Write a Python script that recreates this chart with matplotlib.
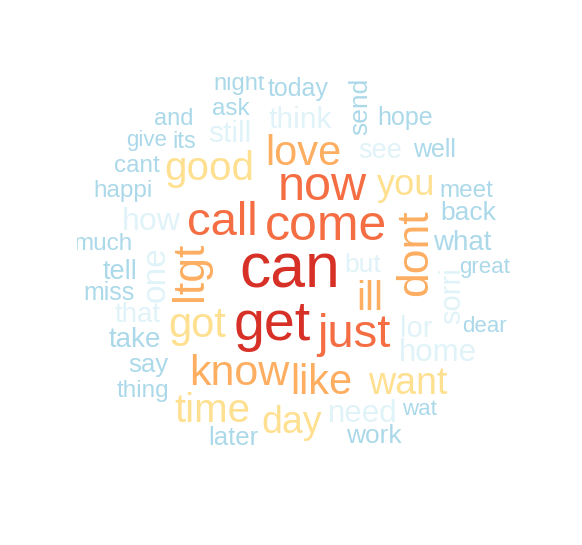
import matplotlib.pyplot as plt

# --- word data (weight ~ frequency, bin = colour class by frequency) ---
words = ['can', 'get', 'come', 'just', 'now', 'call', 'dont', 'ltgt', 'know',
         'love', 'like', 'got', 'ill', 'good', 'time', 'day', 'want', 'you',
         'one', 'how', 'home', 'need', 'still', 'think', 'lor', 'sorri', 'that',
         'see', 'but',
         'tell', 'take', 'what', 'send', 'back', 'work', 'say', 'later', 'miss',
         'today', 'hope', 'well', 'ask', 'happi', 'cant', 'much', 'thing', 'meet',
         'and', 'night', 'its', 'give', 'great', 'dear', 'wat']
weights = [45, 40, 36, 34, 35, 34, 32, 32, 31,
           30, 30, 30, 29, 29, 29, 27, 27, 26,
           24, 23, 22.5, 22.5, 21.5, 21.5, 21, 21, 20,
           19.5, 19,
           19.5, 20, 20, 19, 19, 19, 18.5, 18.5, 18,
           18, 18, 18, 17.5, 17.5, 17.5, 17.5, 17.5, 17.5,
           17, 17, 17, 16, 16, 16, 16]
bins = [5, 5, 4, 4, 4, 4, 3, 3, 3,
        3, 3, 2, 3, 2, 2, 2, 2, 2,
        1, 1, 1, 1, 1, 1, 1, 1, 1,
        1, 1,
        0, 0, 0, 0, 0, 0, 0, 0, 0,
        0, 0, 0, 0, 0, 0, 0, 0, 0,
        0, 0, 0, 0, 0, 0, 0]

# RdYlBu style palette, low -> high frequency
palette = ['#ABD9E9', '#E0F3F8', '#FEE090', '#FDAE61', '#F46D43', '#D73027']

# --- layout (pixel coords; horizontal: centre x / baseline y, rotated: baseline x / centre y) ---
layout = {
    'can': (290, 288, 0), 'get': (272, 340, 0), 'come': (326, 240, 0),
    'just': (354, 347, 0), 'now': (322, 200, 0), 'call': (222, 235, 0),
    'dont': (427, 253, 90), 'ltgt': (202, 271, 90), 'know': (239, 385, 0),
    'love': (303, 165, 0), 'like': (321, 394, 0), 'got': (197, 337, 0),
    'ill': (370, 310, 0), 'good': (209, 180, 0), 'time': (212, 422, 0),
    'day': (292, 433, 0), 'want': (408, 394, 0), 'you': (406, 195, 0),
    'one': (165, 274, 90), 'how': (151, 230, 0), 'home': (438, 361, 0),
    'need': (363, 422, 0), 'still': (230, 142, 0), 'think': (300, 128, 0),
    'lor': (416, 337, 0), 'sorri': (460, 296, 90), 'that': (138, 322, 0),
    'see': (380, 158, 0), 'but': (363, 272, 0),
    'tell': (120, 279, 0), 'take': (135, 347, 0), 'what': (462, 250, 0),
    'send': (367, 106, 90), 'back': (468, 220, 0), 'work': (374, 443, 0),
    'say': (148, 372, 0), 'later': (233, 445, 0), 'miss': (109, 300, 0),
    'today': (298, 96, 0), 'hope': (405, 125, 0), 'well': (434, 157, 0),
    'ask': (231, 115, 0), 'happi': (123, 197, 0), 'cant': (137, 172, 0),
    'much': (103, 250, 0), 'thing': (143, 397, 0), 'meet': (466, 197, 0),
    'and': (174, 125, 0), 'night': (239, 90, 0), 'its': (184, 148, 0),
    'give': (147, 146, 0), 'great': (485, 273, 0), 'dear': (484, 332, 0),
    'wat': (419, 415, 0),
}

W, H = 582, 545
clip_l, clip_r, clip_t, clip_b = 77, 520, 76, 448

fig = plt.figure(figsize=(W / 100, H / 100), dpi=100, facecolor='white')
ax = fig.add_axes([clip_l / W, (H - clip_b) / H, (clip_r - clip_l) / W, (clip_b - clip_t) / H])
ax.set_xlim(clip_l, clip_r)
ax.set_ylim(clip_b, clip_t)
ax.axis('off')

for w, s, b in zip(words, weights, bins):
    x, y, rot = layout[w]
    ax.text(x, y, w, fontsize=s, color=palette[b], family='Liberation Sans',
            ha='center', va='baseline', rotation=rot, rotation_mode='anchor',
            clip_on=True)

fig.savefig('out.png', dpi=100, facecolor='white')
